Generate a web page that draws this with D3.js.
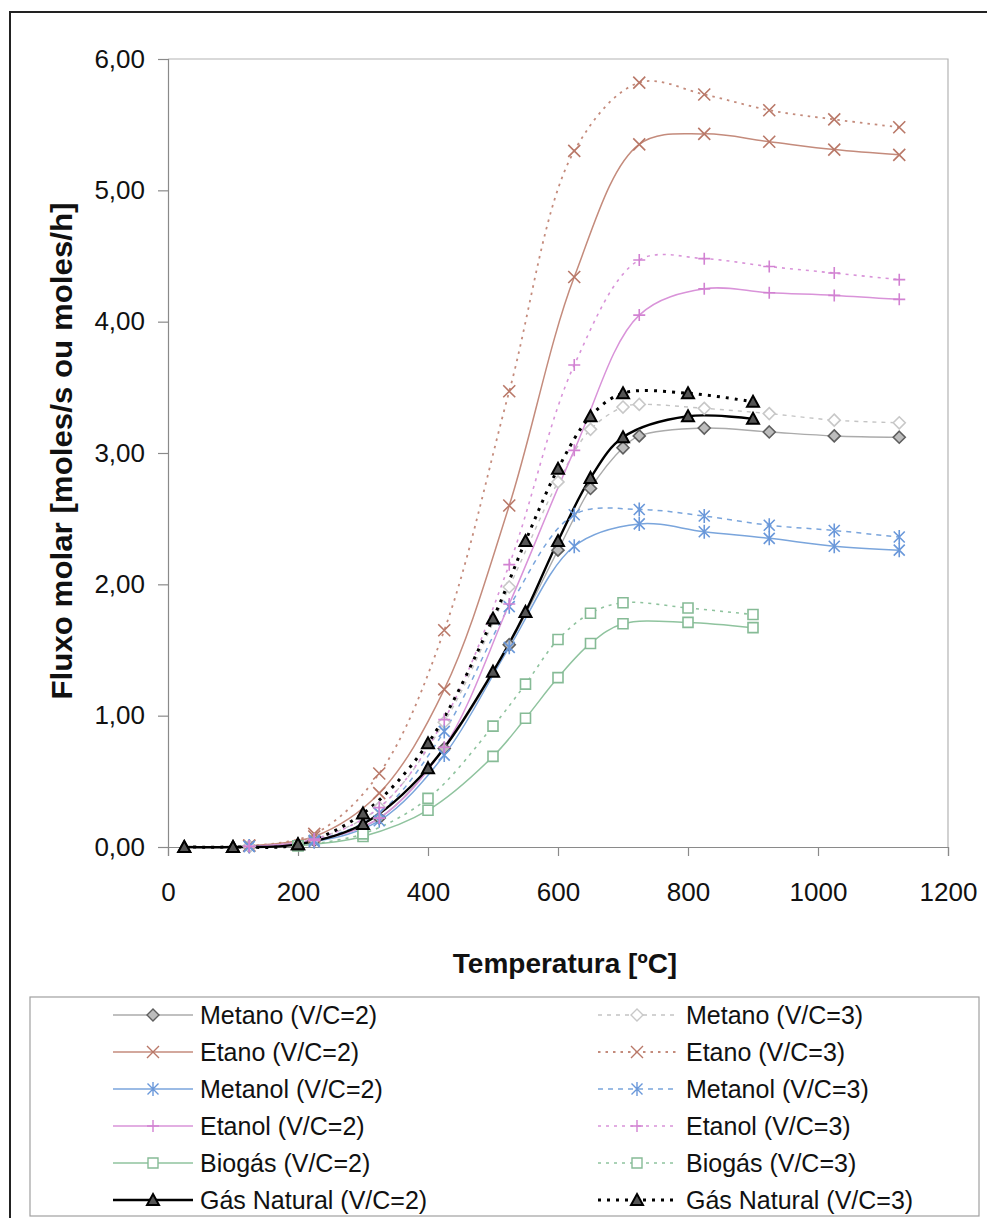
<!DOCTYPE html>
<html>
<head>
<meta charset="utf-8">
<script src="https://cdn.jsdelivr.net/npm/d3@7"></script>
<style>
  body { margin: 0; background: #fff; }
  svg { display: block; font-family: "Liberation Sans", Arial, sans-serif; }
</style>
</head>
<body>
<script>
// temperatures (ºC)
var tEtano = [125, 225, 325, 425, 525, 625, 725, 825, 925, 1025, 1125];
var tMetano = [125, 225, 325, 425, 525, 600, 650, 700, 725, 825, 925, 1025, 1125];
var tGas = [25, 100, 200, 300, 400, 500, 550, 600, 650, 700, 800, 900];
var tBiogas = [200, 300, 400, 500, 550, 600, 650, 700, 800, 900];

// molar flow values
var metano2 = [0.005, 0.05, 0.22, 0.75, 1.54, 2.26, 2.73, 3.04, 3.13, 3.19, 3.16, 3.13, 3.12];
var metano3 = [0.005, 0.06, 0.30, 0.95, 1.98, 2.78, 3.18, 3.35, 3.37, 3.34, 3.30, 3.25, 3.23];
var etano2 = [0.01, 0.08, 0.41, 1.20, 2.60, 4.34, 5.35, 5.43, 5.37, 5.31, 5.27];
var etano3 = [0.01, 0.10, 0.56, 1.65, 3.47, 5.30, 5.82, 5.73, 5.61, 5.54, 5.48];
var metanol2 = [0.005, 0.04, 0.20, 0.70, 1.52, 2.29, 2.46, 2.40, 2.35, 2.29, 2.26];
var metanol3 = [0.005, 0.05, 0.26, 0.88, 1.83, 2.53, 2.57, 2.52, 2.45, 2.41, 2.36];
var etanol2 = [0.005, 0.05, 0.22, 0.76, 1.85, 3.02, 4.05, 4.25, 4.22, 4.20, 4.17];
var etanol3 = [0.005, 0.06, 0.30, 0.97, 2.15, 3.67, 4.47, 4.48, 4.42, 4.37, 4.32];
var biogas2 = [0.01, 0.08, 0.28, 0.69, 0.98, 1.29, 1.55, 1.70, 1.71, 1.67];
var biogas3 = [0.01, 0.10, 0.37, 0.92, 1.24, 1.58, 1.78, 1.86, 1.82, 1.77];
var gas2 = [0, 0, 0.02, 0.175, 0.60, 1.335, 1.79, 2.33, 2.81, 3.12, 3.28, 3.26];
var gas3 = [0, 0, 0.02, 0.256, 0.79, 1.74, 2.33, 2.88, 3.28, 3.455, 3.455, 3.39];

var xTicks = [0, 200, 400, 600, 800, 1000, 1200];
var yTicks = [0, 1, 2, 3, 4, 5, 6];

var series = [
  {name: 'Metano (V/C=2)', t: tMetano, v: metano2, color: '#ababab', ms: '#5e5e5e', mf: '#bdbdbd', shape: 'diamond', dash: null, w: 1.4},
  {name: 'Metano (V/C=3)', t: tMetano, v: metano3, color: '#c4c4c4', ms: '#c8c8c8', mf: '#fff', shape: 'diamond', dash: '4,5', w: 1.4},
  {name: 'Etano (V/C=2)', t: tEtano, v: etano2, color: '#c48b7c', ms: '#b97868', mf: 'none', shape: 'x', dash: null, w: 1.5},
  {name: 'Etano (V/C=3)', t: tEtano, v: etano3, color: '#c48b7c', ms: '#b97868', mf: 'none', shape: 'x', dash: '2.5,5', w: 1.8},
  {name: 'Metanol (V/C=2)', t: tEtano, v: metanol2, color: '#7aa5dc', ms: '#6a98da', mf: 'none', shape: 'star', dash: null, w: 1.5},
  {name: 'Metanol (V/C=3)', t: tEtano, v: metanol3, color: '#7aa5dc', ms: '#6a98da', mf: 'none', shape: 'star', dash: '5,5', w: 1.5},
  {name: 'Etanol (V/C=2)', t: tEtano, v: etanol2, color: '#d993d9', ms: '#d282d2', mf: 'none', shape: 'plus', dash: null, w: 1.5},
  {name: 'Etanol (V/C=3)', t: tEtano, v: etanol3, color: '#d993d9', ms: '#d282d2', mf: 'none', shape: 'plus', dash: '3,5', w: 1.6},
  {name: 'Biogás (V/C=2)', t: tBiogas, v: biogas2, color: '#8fc39e', ms: '#86bb96', mf: '#fff', shape: 'square', dash: null, w: 1.5},
  {name: 'Biogás (V/C=3)', t: tBiogas, v: biogas3, color: '#8fc39e', ms: '#86bb96', mf: '#fff', shape: 'square', dash: '3,5', w: 1.6},
  {name: 'Gás Natural (V/C=2)', t: tGas, v: gas2, color: '#000', ms: '#000', mf: '#555', shape: 'tri', dash: null, w: 2.4},
  {name: 'Gás Natural (V/C=3)', t: tGas, v: gas3, color: '#000', ms: '#000', mf: '#555', shape: 'tri', dash: '3,6', w: 3}
];

var svg = d3.select('body').append('svg')
  .attr('width', 987)
  .attr('height', 1218);

// outer frame
svg.append('rect')
  .attr('x', 10).attr('y', 12)
  .attr('width', 1000).attr('height', 1230)
  .attr('fill', 'none').attr('stroke', '#222').attr('stroke-width', 2);

var x = d3.scaleLinear().domain([0, 1200]).range([168, 948]);
var y = d3.scaleLinear().domain([0, 6]).range([847, 59]);

// plot area outline (top / right)
svg.append('path')
  .attr('d', 'M' + x(0) + ',' + y(6) + 'H' + x(1200) + 'V' + y(0))
  .attr('fill', 'none').attr('stroke', '#b4b4b4').attr('stroke-width', 1.2);

var yAxis = svg.append('g')
  .attr('transform', 'translate(' + x(0) + ',0)')
  .call(d3.axisLeft(y).tickValues(yTicks).tickSize(10).tickPadding(13)
    .tickFormat(function(d) { return d3.format('.2f')(d).replace('.', ','); }));

var xAxis = svg.append('g')
  .attr('transform', 'translate(0,' + y(0) + ')')
  .call(d3.axisBottom(x).tickValues(xTicks).tickSize(9).tickPadding(27)
    .tickFormat(d3.format('d')));

[yAxis, xAxis].forEach(function(a) {
  a.select('.domain').attr('stroke', '#8a8a8a').attr('stroke-width', 1.2);
  a.selectAll('.tick line').attr('stroke', '#8a8a8a').attr('stroke-width', 1.2);
  a.selectAll('.tick text')
    .attr('fill', '#111')
    .style('font-size', '26px')
    .style('font-family', '"Liberation Sans", Arial, sans-serif');
});

// axis titles
svg.append('text')
  .attr('x', 565).attr('y', 973)
  .attr('text-anchor', 'middle')
  .style('font-size', '28px').style('font-weight', 'bold')
  .attr('fill', '#111')
  .text('Temperatura [ºC]');

svg.append('text')
  .attr('transform', 'translate(72,451) rotate(-90)')
  .attr('text-anchor', 'middle')
  .attr('textLength', 497).attr('lengthAdjust', 'spacingAndGlyphs')
  .style('font-size', '29px').style('font-weight', 'bold')
  .attr('fill', '#111')
  .text('Fluxo molar [moles/s ou moles/h]');

function markerPath(shape) {
  var s = 6;
  if (shape === 'diamond') return 'M0,-6L6,0L0,6L-6,0Z';
  if (shape === 'x') return 'M-6,-6L6,6M-6,6L6,-6';
  if (shape === 'star') return 'M-5.5,-5.5L5.5,5.5M-5.5,5.5L5.5,-5.5M0,-7L0,7';
  if (shape === 'plus') return 'M-6,0H6M0,-6V6';
  if (shape === 'square') return 'M-5,-5H5V5H-5Z';
  if (shape === 'tri') return 'M0,-6L6,5H-6Z';
  return '';
}

var line = d3.line()
  .x(function(d) { return x(d[0]); })
  .y(function(d) { return y(d[1]); })
  .curve(d3.curveCatmullRom.alpha(0.5));

var plot = svg.append('g');

series.forEach(function(s) {
  var pts = s.t.map(function(t, i) { return [t, s.v[i]]; });
  plot.append('path')
    .datum(pts)
    .attr('d', line)
    .attr('fill', 'none')
    .attr('stroke', s.color)
    .attr('stroke-width', s.w)
    .attr('stroke-dasharray', s.dash);
});

series.forEach(function(s) {
  var pts = s.t.map(function(t, i) { return [t, s.v[i]]; });
  plot.selectAll(null)
    .data(pts)
    .enter()
    .append('path')
    .attr('transform', function(d) { return 'translate(' + x(d[0]) + ',' + y(d[1]) + ')'; })
    .attr('d', markerPath(s.shape))
    .attr('fill', s.mf)
    .attr('stroke', s.ms)
    .attr('stroke-width', s.shape === 'tri' ? 2 : 1.6);
});

// legend
svg.append('rect')
  .attr('x', 30).attr('y', 997)
  .attr('width', 949).attr('height', 219)
  .attr('fill', '#fff').attr('stroke', '#a0a0a0').attr('stroke-width', 1.2);

var legend = svg.append('g');
series.forEach(function(s, i) {
  var col = i % 2, row = Math.floor(i / 2);
  var x0 = col === 0 ? 113 : 598;
  var x1 = col === 0 ? 193 : 676;
  var ly = 1015 + row * 37;
  var g = legend.append('g');
  g.append('line')
    .attr('x1', x0).attr('x2', x1)
    .attr('y1', ly).attr('y2', ly)
    .attr('stroke', s.color)
    .attr('stroke-width', s.w)
    .attr('stroke-dasharray', s.dash);
  g.append('path')
    .attr('transform', 'translate(' + ((x0 + x1) / 2) + ',' + ly + ')')
    .attr('d', markerPath(s.shape))
    .attr('fill', s.mf === 'none' ? 'none' : s.mf)
    .attr('stroke', s.ms)
    .attr('stroke-width', s.shape === 'tri' ? 2 : 1.4);
  g.append('text')
    .attr('x', col === 0 ? 200 : 686)
    .attr('y', ly + 9)
    .style('font-size', '25px')
    .attr('fill', '#111')
    .text(s.name);
});
</script>
</body>
</html>
